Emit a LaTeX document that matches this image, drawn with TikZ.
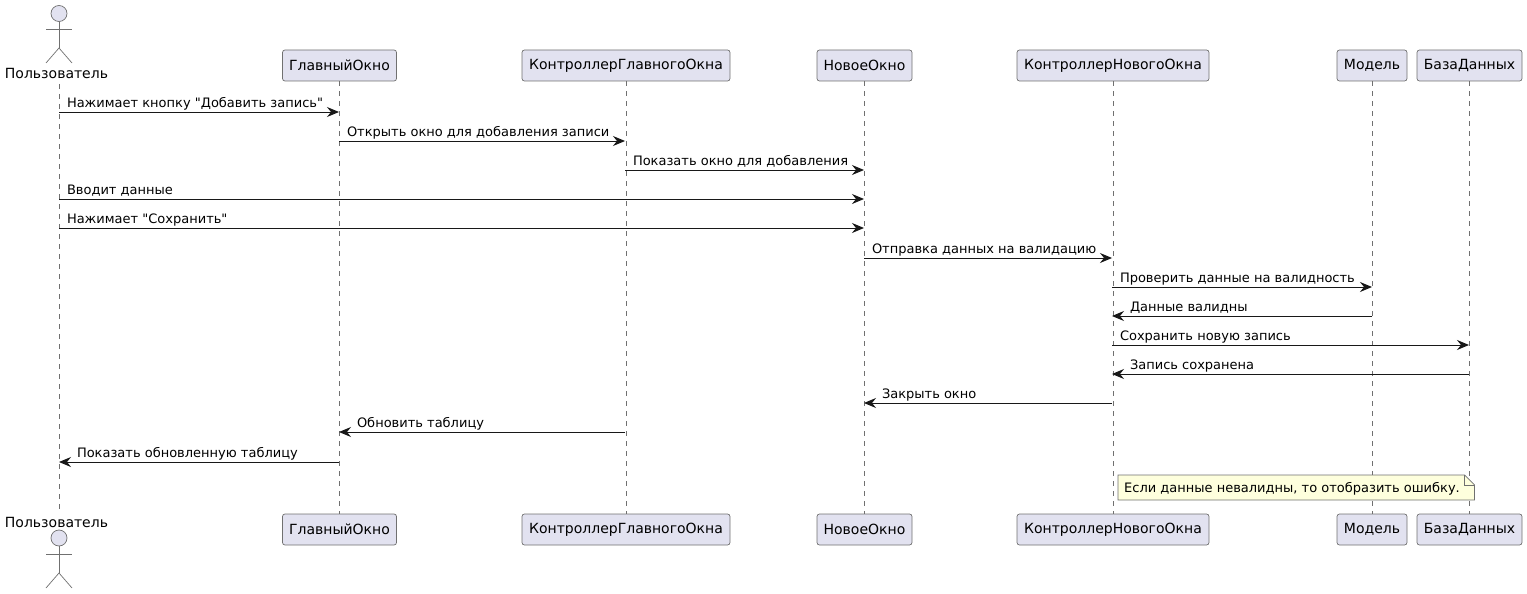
\documentclass[tikz,border=0pt]{standalone}
\usepackage{fontspec}
\setmainfont{DejaVu Sans}[Ligatures=TeXOff]
\usetikzlibrary{arrows.meta}

\definecolor{boxfill}{HTML}{E2E2F0}
\definecolor{notefill}{HTML}{FEFFDD}
\definecolor{linecol}{HTML}{181818}
\definecolor{thincol}{HTML}{707070}

\tikzset{
	box/.style={shape=rectangle,draw=thincol,fill=boxfill,line width=0.7pt,rounded corners=2.5pt,minimum height=31pt,inner sep=0pt,font=\fontsize{14}{16}\selectfont},
	actorline/.style={draw=thincol,line width=0.7pt},
	life/.style={draw=thincol,line width=0.7pt,dash pattern=on 5pt off 5pt},
	msg/.style={draw=linecol,line width=1pt,-{Stealth[length=12pt,width=10pt,inset=4pt]}},
	txt/.style={inner sep=0pt,font=\fontsize{13}{15}\selectfont,text=black},
	rtxt/.style={txt,pos=0,anchor=base west,xshift=7.5pt,yshift=5pt},
	ltxt/.style={txt,pos=1,anchor=base west,xshift=17.5pt,yshift=5pt}
}

\begin{document}
\begin{tikzpicture}[x=1pt,y=-1pt]

	\useasboundingbox (0,0) rectangle (1527,594);

	\node[box,minimum width=114pt] (mainwin) at (339.5, 65.5)  {ГлавныйОкно};
	\node[box,minimum width=208pt] (mainctl) at (626, 65.5)    {КонтроллерГлавногоОкна};
	\node[box,minimum width=95pt]  (newwin)  at (864.5, 65.5)  {НовоеОкно};
	\node[box,minimum width=192pt] (newctl)  at (1113, 65.5)   {КонтроллерНовогоОкна};
	\node[box,minimum width=70pt]  (model)   at (1372, 65.5)   {Модель};
	\node[box,minimum width=105pt] (db)      at (1469.5, 65.5) {БазаДанных};

	\node[box,minimum width=114pt] (mainwinb) at (339.5, 529.5)  {ГлавныйОкно};
	\node[box,minimum width=208pt] (mainctlb) at (626, 529.5)    {КонтроллерГлавногоОкна};
	\node[box,minimum width=95pt]  (newwinb)  at (864.5, 529.5)  {НовоеОкно};
	\node[box,minimum width=192pt] (newctlb)  at (1113, 529.5)   {КонтроллерНовогоОкна};
	\node[box,minimum width=70pt]  (modelb)   at (1372, 529.5)   {Модель};
	\node[box,minimum width=105pt] (dbb)      at (1469.5, 529.5) {БазаДанных};

	\node[txt,font=\fontsize{14}{16}\selectfont] (user)  at (56.5, 73)  {Пользователь};
	\node[txt,font=\fontsize{14}{16}\selectfont] (userb) at (56.5, 522) {Пользователь};

	\coordinate (usertop) at (59, 84);
	\coordinate (userbot) at (59, 512);
	\path (usertop) edge[life] (userbot);
	\path (mainwin) edge[life] (mainwinb);
	\path (mainctl) edge[life] (mainctlb);
	\path (newwin) edge[life] (newwinb);
	\path (newctl) edge[life] (newctlb);
	\path (model) edge[life] (modelb);
	\path (db) edge[life] (dbb);

	\node[shape=circle,actorline,fill=boxfill,minimum size=16pt,inner sep=0pt] (head) at (59, 13.5) {};
	\coordinate (hip) at (59, 48);
	\coordinate (larm) at (46, 29);
	\coordinate (rarm) at (72, 29);
	\coordinate (lleg) at (46, 63);
	\coordinate (rleg) at (72, 63);
	\draw[actorline] (head) -- (hip);
	\draw[actorline] (larm) -- (rarm);
	\draw[actorline] (lleg) -- (hip) -- (rleg);

	\node[shape=circle,actorline,fill=boxfill,minimum size=16pt,inner sep=0pt] (headb) at (59, 538) {};
	\coordinate (hipb) at (59, 573);
	\coordinate (larmb) at (46, 554);
	\coordinate (rarmb) at (72, 554);
	\coordinate (llegb) at (46, 588);
	\coordinate (rlegb) at (72, 588);
	\draw[actorline] (headb) -- (hipb);
	\draw[actorline] (larmb) -- (rarmb);
	\draw[actorline] (llegb) -- (hipb) -- (rlegb);

	\foreach \lname/\lx in {u/59, g/339, k/625, n/864, c/1112, m/1372, b/1469}
		\foreach \ly [count=\i] in {112,141,170,199,228,258,287,316,345,374,403,432,462}
			\coordinate (\lname\i) at (\lx, \ly);

	\path (u1) edge[msg]  node[rtxt] (t1) {Нажимает кнопку "Добавить запись"} (g1);
	\path (g2) edge[msg]  node[rtxt] (t2) {Открыть окно для добавления записи} (k2);
	\path (k3) edge[msg]  node[rtxt] (t3) {Показать окно для добавления} (n3);
	\path (u4) edge[msg]  node[rtxt] (t4) {Вводит данные} (n4);
	\path (u5) edge[msg]  node[rtxt] (t5) {Нажимает "Сохранить"} (n5);
	\path (n6) edge[msg]  node[rtxt] (t6) {Отправка данных на валидацию} (c6);
	\path (c7) edge[msg]  node[rtxt] (t7) {Проверить данные на валидность} (m7);
	\path (m8) edge[msg]  node[ltxt] (t8) {Данные валидны} (c8);
	\path (c9) edge[msg]  node[rtxt] (t9) {Сохранить новую запись} (b9);
	\path (b10) edge[msg] node[ltxt] (t10) {Запись сохранена} (c10);
	\path (c11) edge[msg] node[ltxt] (t11) {Закрыть окно} (n11);
	\path (k12) edge[msg] node[ltxt] (t12) {Обновить таблицу} (g12);
	\path (g13) edge[msg] node[ltxt] (t13) {Показать обновленную таблицу} (u13);

	\draw[actorline,fill=notefill] (1118, 475) -- (1464.5, 475) -- (1474.5, 485) -- (1474.5, 500) -- (1118, 500) -- cycle;
	\draw[actorline] (1464.5, 475) -- (1464.5, 485) -- (1474.5, 485);
	\node[txt,anchor=base west] (note) at (1124, 492) {Если данные невалидны, то отобразить ошибку.};

\end{tikzpicture}
\end{document}
